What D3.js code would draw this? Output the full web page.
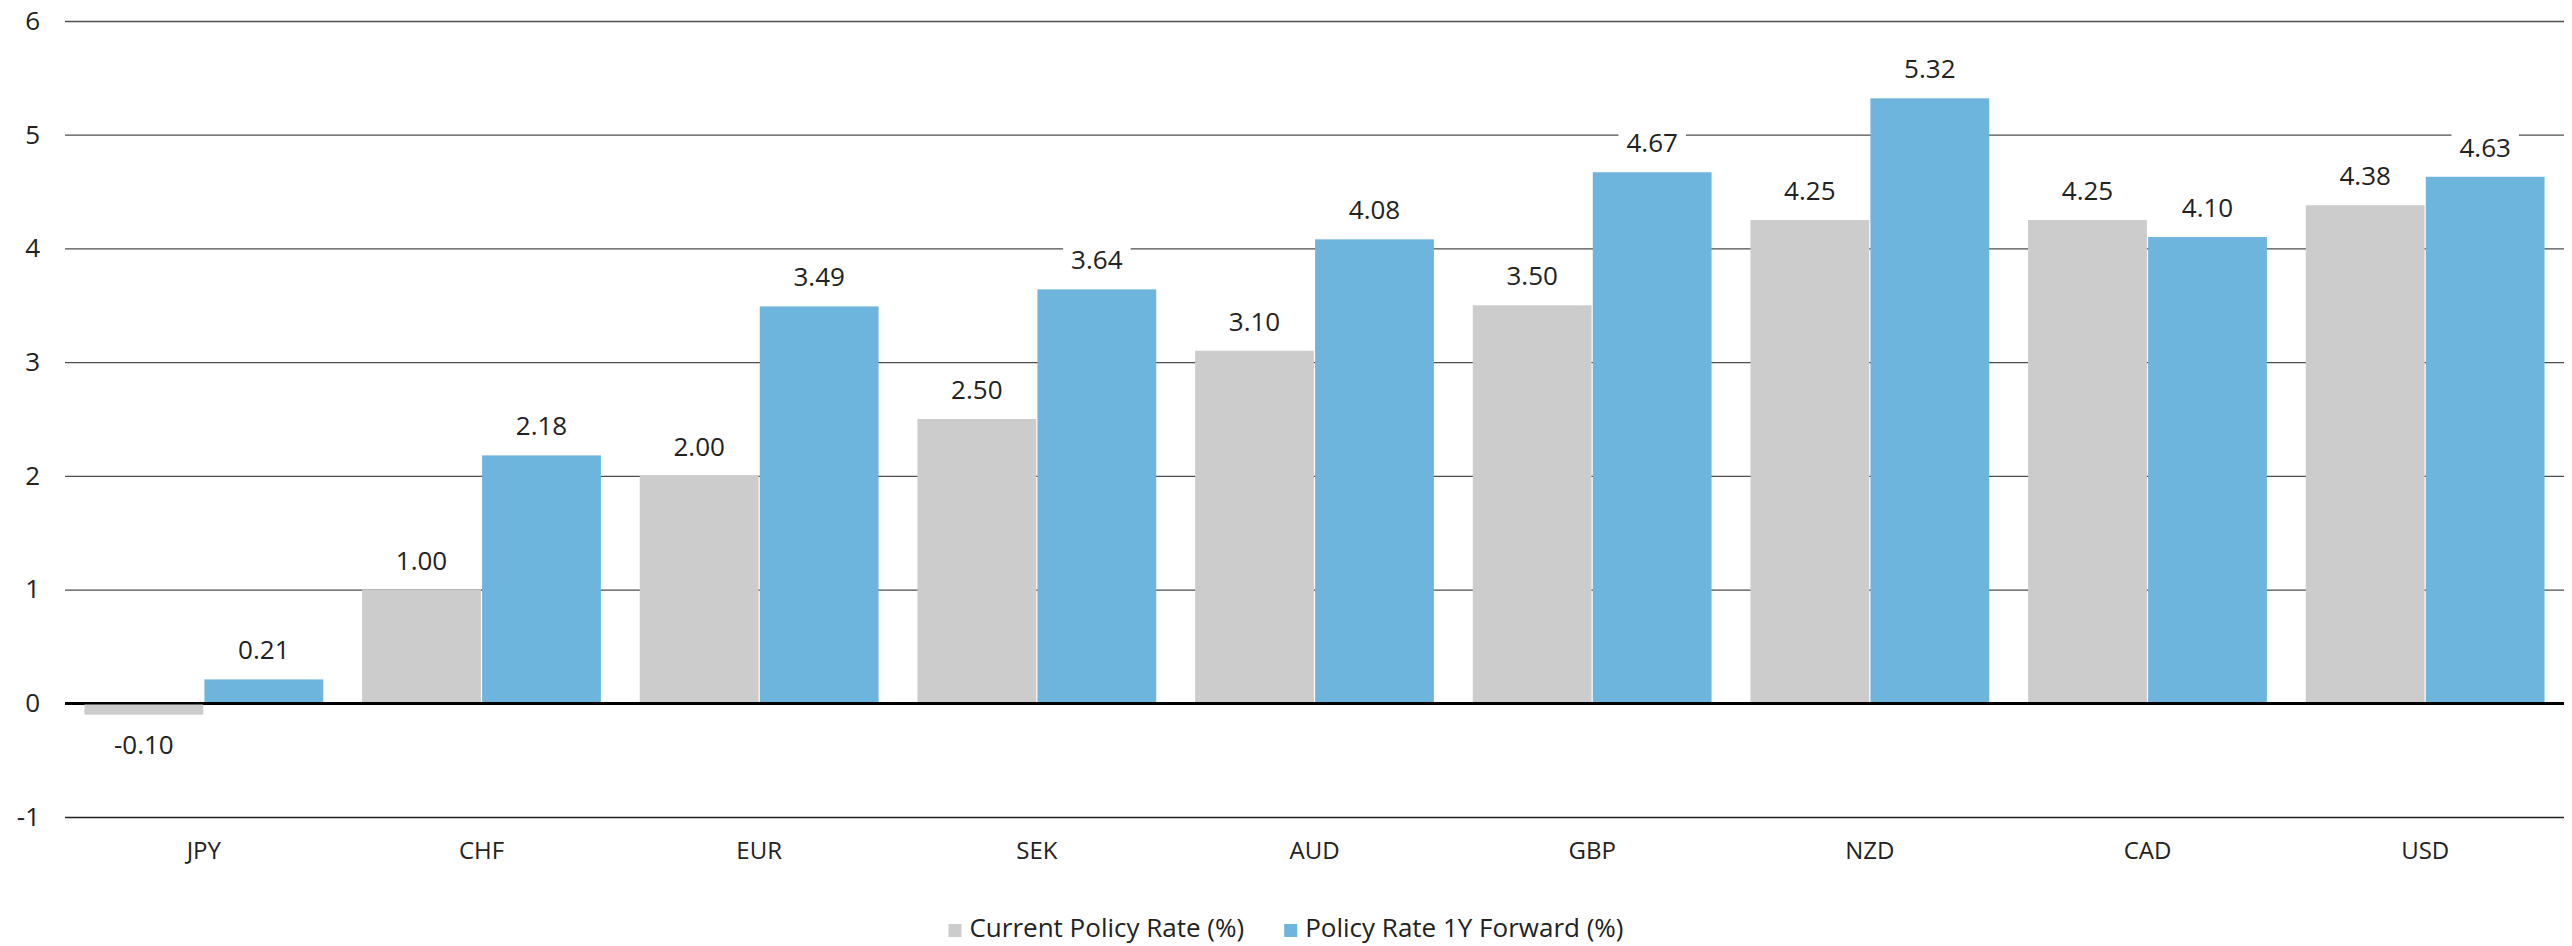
<!DOCTYPE html>
<html><head><meta charset="utf-8">
<script src="https://cdn.jsdelivr.net/npm/d3@7"></script>
<style>
html,body{margin:0;padding:0;background:#fff;}
svg{display:block;font-family:"Open Sans",sans-serif;}
</style></head>
<body>
<svg id="chart" width="2572" height="946"></svg>
<script>
const categories = ["JPY","CHF","EUR","SEK","AUD","GBP","NZD","CAD","USD"];
const currentRate = [-0.10,1.00,2.00,2.50,3.10,3.50,4.25,4.25,4.38];
const forwardRate = [0.21,2.18,3.49,3.64,4.08,4.67,5.32,4.10,4.63];
const yTicks = [-1,0,1,2,3,4,5,6];
const seriesNames = ["Current Policy Rate (%)","Policy Rate 1Y Forward (%)"];
const colors = ["#cccccc","#6eb5dd"];

const loc = d3.formatLocale({decimal:".",thousands:",",grouping:[3],currency:["",""],minus:"-"});
const fmtTick = loc.format("d");
const fmtVal = loc.format(".2f");

const svg = d3.select("#chart");
const plotLeft = 65, plotRight = 2564, plotTop = 21, plotBottom = 817;

const x = d3.scaleBand().domain(categories).range([plotLeft,plotRight]).paddingInner(0.14).paddingOuter(0.07);
const x1 = d3.scaleBand().domain([0,1]).range([0,x.bandwidth()]).paddingInner(0.01);
const y = d3.scaleLinear().domain([-1,6]).range([plotBottom,plotTop]);

// gridlines
const yAxis = d3.axisLeft(y).tickValues(yTicks).tickSize(-(plotRight-plotLeft)).tickPadding(25).tickFormat(fmtTick);
const ga = svg.append("g").attr("transform",`translate(${plotLeft},0)`).call(yAxis);
ga.select(".domain").remove();
ga.selectAll(".tick line").attr("stroke",d=>d===0?"#000":(d===-1?"#222":"#4d4d4d")).attr("stroke-width",d=>d===0?2.5:1.3);
ga.selectAll(".tick text").attr("font-size",26).attr("fill","#222").style("font-family","'Open Sans',sans-serif");

// bars
const data = categories.map((c,i)=>({c, vals:[currentRate[i],forwardRate[i]]}));
const groups = svg.append("g").selectAll("g").data(data).join("g")
  .attr("transform",d=>`translate(${x(d.c)},0)`);
groups.selectAll("rect").data(d=>d.vals.map((v,k)=>({v,k}))).join("rect")
  .attr("x",d=>x1(d.k)).attr("width",x1.bandwidth())
  .attr("y",d=>y(Math.max(0,d.v))).attr("height",d=>Math.abs(y(d.v)-y(0)))
  .attr("fill",d=>colors[d.k]);

// redraw zero line on top
svg.append("line").attr("x1",plotLeft).attr("x2",plotRight).attr("y1",y(0)).attr("y2",y(0)).attr("stroke","#000").attr("stroke-width",2.5);

// value labels with white background
const lab = svg.append("g");
data.forEach(d=>{
  d.vals.forEach((v,k)=>{
    const cx = x(d.c)+x1(k)+x1.bandwidth()/2;
    const by = v>=0 ? y(v)-20 : y(v)+20+19;
    const g = lab.append("g");
    const t = g.append("text").attr("x",cx).attr("y",by).attr("text-anchor","middle")
      .attr("font-size",26).attr("fill","#222").text(fmtVal(v));
    const bb = t.node().getBBox();
    g.insert("rect","text").attr("x",bb.x-8).attr("y",bb.y-2).attr("width",bb.width+16).attr("height",bb.height+2).attr("fill","#fff");
  });
});

// category labels
const xAxis = d3.axisBottom(x).tickSize(0).tickPadding(0);
const gx = svg.append("g").attr("transform",`translate(0,859)`).call(xAxis);
gx.select(".domain").remove();
gx.selectAll("text").attr("font-size",24).attr("fill","#222").attr("dy",0).style("font-family","'Open Sans',sans-serif");

// legend
const leg = svg.append("g");
const items = seriesNames.map((n,k)=>{
  const g = leg.append("g");
  g.append("rect").attr("x",0).attr("y",-13).attr("width",13).attr("height",13).attr("fill",colors[k]);
  g.append("text").attr("x",21).attr("y",0).attr("font-size",26).attr("fill","#222").text(n);
  return g;
});
let w0 = items[0].node().getBBox().width;
items[1].attr("transform",`translate(${w0+40},0)`);
const tw = leg.node().getBBox().width;
leg.attr("transform",`translate(${2572/2 - tw/2},937)`);
</script>
</body></html>
